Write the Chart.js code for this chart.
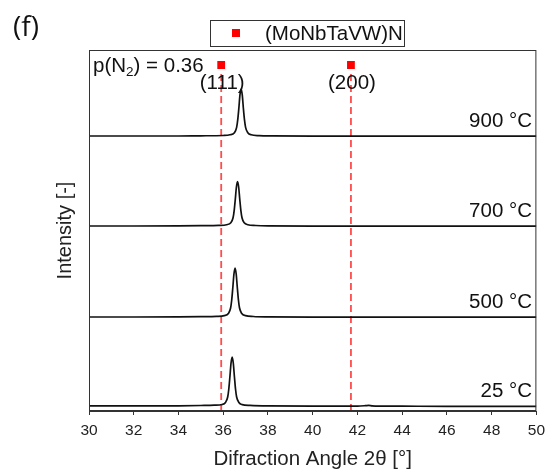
<!DOCTYPE html>
<html>
<head>
<meta charset="utf-8">
<title>XRD (MoNbTaVW)N</title>
<script src="https://cdn.jsdelivr.net/npm/chart.js@4.4.0/dist/chart.umd.min.js"></script>
<style>
  html, body { margin: 0; padding: 0; background: #fff; }
  #wrap { width: 551px; height: 476px; }
</style>
</head>
<body>
<div id="wrap"><canvas id="xrdChart"></canvas></div>
<script>
// temperatures, bottom to top
const temps = ['25 °C', '500 °C', '700 °C', '900 °C'];
// vertical shift of each pattern (stacked plot)
const offsets = [4, 93, 184, 274];

// 2theta sample points and intensities
const angle25 = [30, 32, 34, 35, 35.6, 35.95, 36.1, 36.2, 36.25, 36.3, 36.35, 36.4, 36.45, 36.5, 36.55, 36.6, 36.7, 36.85, 37.2, 38, 40, 42, 42.35, 42.5, 42.65, 43, 44, 46, 48, 50];
const int25 = [1.2, 1.1, 1.2, 1.5, 1.8, 2.5, 4.5, 10, 18, 30.5, 44, 50, 44, 30.5, 18, 10, 4.5, 2.4, 1.6, 1.1, 0.9, 0.9, 1.3, 1.6, 1.2, 0.9, 0.8, 0.7, 0.7, 0.7];

const angle500 = [30, 32, 34, 35, 35.7, 36.05, 36.23, 36.33, 36.38, 36.43, 36.48, 36.53, 36.58, 36.63, 36.68, 36.73, 36.83, 37.0, 37.35, 38, 40, 42, 44, 46, 48, 50];
const int500 = [1.0, 1.0, 1.1, 1.3, 1.6, 2.4, 4.5, 10, 18, 30.5, 44, 50, 44, 30.5, 18, 10, 4.5, 2.4, 1.5, 1.1, 0.9, 0.9, 0.8, 0.8, 0.8, 0.8];

const angle700 = [30, 32, 34, 35, 35.8, 36.15, 36.34, 36.44, 36.49, 36.54, 36.59, 36.64, 36.69, 36.74, 36.79, 36.84, 36.94, 37.1, 37.45, 38, 40, 42, 44, 46, 48, 50];
const int700 = [1.0, 1.0, 1.1, 1.3, 1.6, 2.3, 4.2, 9.2, 16.4, 27.6, 40, 45.5, 40, 27.6, 16.4, 9.2, 4.2, 2.3, 1.5, 1.1, 0.9, 0.9, 0.8, 0.8, 0.8, 0.8];

const angle900 = [30, 32, 34, 35, 36, 36.3, 36.5, 36.6, 36.65, 36.7, 36.75, 36.8, 36.85, 36.9, 36.95, 37.0, 37.1, 37.25, 37.6, 38.2, 40, 42, 44, 46, 48, 50];
const int900 = [1.0, 1.0, 1.0, 1.2, 1.5, 2.2, 4.3, 9.6, 17.3, 29, 42.3, 48, 42.3, 29, 17.3, 9.6, 4.3, 2.2, 1.4, 1.1, 0.9, 0.9, 0.8, 0.8, 0.8, 0.8];

// reference reflections of (MoNbTaVW)N
const refAngles = [35.91, 41.71];
const refLabels = ['(111)', '(200)'];
const refMarkerY = 346;
const refLineTop = 341;

const xTicks = [30, 32, 34, 36, 38, 40, 42, 44, 46, 48, 50];

const FONT = '"Liberation Sans", Arial, sans-serif';
Chart.defaults.font.family = FONT;
Chart.defaults.color = '#222';

const patterns = [[angle25, int25], [angle500, int500], [angle700, int700], [angle900, int900]];

const datasets = patterns.map((p, i) => ({
  label: temps[i],
  data: p[0].map((a, k) => ({ x: a, y: p[1][k] + offsets[i] })),
  borderColor: '#111',
  borderWidth: 1.7,
  pointRadius: 0,
  cubicInterpolationMode: 'monotone',
  fill: false
}));

refAngles.forEach(a => {
  datasets.push({
    label: 'ref',
    data: [{ x: a, y: 0 }, { x: a, y: refLineTop }],
    borderColor: 'rgba(255, 45, 45, 0.85)',
    borderWidth: 1.8,
    borderDash: [7, 4],
    pointRadius: 0
  });
});

datasets.push({
  label: '(MoNbTaVW)N',
  type: 'scatter',
  data: refAngles.map(a => ({ x: a, y: refMarkerY })),
  pointStyle: 'rect',
  pointRadius: 5.5,
  backgroundColor: '#ff0000',
  borderColor: '#ff0000',
  borderWidth: 0
});

const decorations = {
  id: 'decorations',
  afterDraw(chart) {
    const { ctx, chartArea: a, scales: { x, y } } = chart;
    ctx.save();
    // plot frame
    ctx.strokeStyle = '#333';
    ctx.lineWidth = 1;
    ctx.strokeRect(Math.round(a.left) + 0.5, Math.round(a.top) + 0.5, a.width - 1, a.height - 1);

    // legend box
    ctx.fillStyle = '#fff';
    ctx.fillRect(210, 20, 194, 26);
    ctx.strokeRect(210.5, 20.5, 194, 26);
    ctx.fillStyle = '#ff0000';
    ctx.fillRect(232, 29, 8, 8);
    ctx.fillStyle = '#111';
    ctx.font = '20.5px ' + FONT;
    ctx.textBaseline = 'middle';
    ctx.textAlign = 'left';
    ctx.fillText('(MoNbTaVW)N', 265, 34);

    // panel label
    ctx.font = '28px "Open Sans", sans-serif';
    ctx.fillText('(f)', 13, 28);

    // p(N2)
    ctx.font = '20.5px ' + FONT;
    let tx = 93;
    ctx.fillText('p(N', tx, 66);
    tx += ctx.measureText('p(N').width;
    ctx.font = '13.5px ' + FONT;
    ctx.fillText('2', tx, 72);
    tx += ctx.measureText('2').width;
    ctx.font = '20.5px ' + FONT;
    ctx.fillText(') = 0.36', tx, 66);

    // reflection labels
    ctx.textAlign = 'center';
    refAngles.forEach((r, i) => {
      ctx.fillText(refLabels[i], x.getPixelForValue(r) + 1, 83);
    });

    // temperature labels
    ctx.textAlign = 'right';
    temps.forEach((t, i) => {
      ctx.fillText(t, 532, y.getPixelForValue(offsets[i] + 1) - 15);
    });
    ctx.restore();
  }
};

new Chart(document.getElementById('xrdChart'), {
  type: 'line',
  data: { datasets },
  options: {
    responsive: true,
    maintainAspectRatio: false,
    animation: false,
    layout: { padding: { top: 50, right: 14, left: 0, bottom: 0 } },
    plugins: { legend: { display: false }, tooltip: { enabled: false } },
    scales: {
      x: {
        type: 'linear',
        min: 30,
        max: 50,
        afterBuildTicks: s => { s.ticks = xTicks.map(v => ({ value: v })); },
        afterFit: s => { s.height = 65; },
        ticks: { font: { size: 15.5 }, padding: 6, color: '#222', maxRotation: 0 },
        grid: { display: true, drawOnChartArea: false, drawTicks: true, tickLength: 4, color: '#333' },
        border: { display: true, color: '#333', width: 1 },
        title: { display: true, text: 'Difraction Angle 2θ [°]', font: { size: 20.5 }, color: '#222', padding: { top: 0, bottom: 4 } }
      },
      y: {
        min: 0,
        max: 361,
        afterFit: s => { s.width = 89; },
        ticks: { display: false },
        grid: { display: false },
        border: { display: true, color: '#333', width: 1 },
        title: { display: true, text: 'Intensity [-]', font: { size: 20 }, color: '#222', padding: { top: 53, bottom: 0 } }
      }
    }
  },
  plugins: [decorations]
});
</script>
</body>
</html>
